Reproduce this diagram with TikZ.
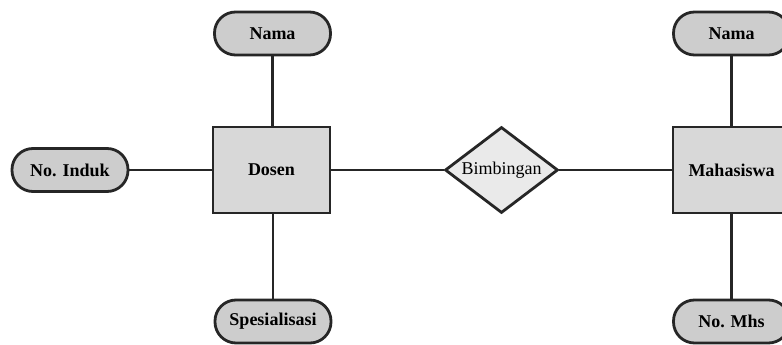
\documentclass[tikz,border=0pt]{standalone}
\usepackage{fontspec}
\setmainfont{Liberation Serif}
\usetikzlibrary{shapes.geometric}
\definecolor{pillgray}{HTML}{CDCDCD}
\definecolor{entgray}{HTML}{D8D8D8}
\definecolor{relgray}{HTML}{EAEAEA}
\begin{document}
\begin{tikzpicture}[x=1pt,y=1pt,
  base/.style={draw=black!85,line width=2.8pt,font=\fontsize{18}{20}\selectfont,inner sep=0pt},
  attr/.style={base,rectangle,rounded corners=21pt,fill=pillgray,minimum width=116pt,minimum height=43pt,font=\fontsize{18}{20}\selectfont\bfseries},
  entity/.style={base,rectangle,fill=entgray,minimum width=117pt,minimum height=86pt,font=\fontsize{18}{20}\selectfont\bfseries},
  rel/.style={base,diamond,fill=relgray,minimum width=113pt,minimum height=86pt,aspect=1.3},
  link/.style={draw=black!85,line width=2.8pt}]
\useasboundingbox (0,0) rectangle (782,345);
\clip (0,0) rectangle (782,345);
\fill[white] (0,0) rectangle (782,345);
\node[entity] (dosen) at (271.5,175) {Dosen};
\node[attr] (nama1) at (272.5,311.5) {Nama};
\node[attr] (induk) at (70,175) {No. Induk};
\node[attr] (spes) at (273,23.5) {Spesialisasi};
\node[rel] (bimb) at (501.5,175) {Bimbingan};
\node[entity] (maha) at (731.5,175) {Mahasiswa};
\node[attr] (nama2) at (731.5,311.5) {Nama};
\node[attr] (nomhs) at (731.5,23.5) {No. Mhs};
\draw[link] (nama1) -- (nama1 |- dosen.north);
\draw[link] (spes) -- (spes |- dosen.south);
\draw[link] (induk) -- (dosen);
\draw[link] (dosen) -- (bimb);
\draw[link] (bimb) -- (maha);
\draw[link] (nama2) -- (maha);
\draw[link] (nomhs) -- (maha);
\end{tikzpicture}
\end{document}
